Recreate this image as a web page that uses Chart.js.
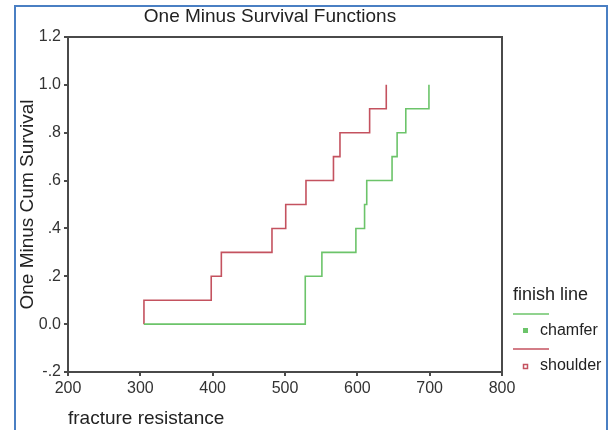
<!DOCTYPE html>
<html>
<head>
<meta charset="utf-8">
<script src="https://cdn.jsdelivr.net/npm/chart.js@4/dist/chart.umd.min.js"></script>
<style>
  html, body { margin: 0; padding: 0; background: #fff; }
  #wrap { position: relative; width: 611px; height: 430px; overflow: hidden; }
  #frame {
    position: absolute; left: 14px; top: 5px; width: 590px; height: 440px;
    border: 2px solid #4a7fc3; pointer-events: none;
  }
</style>
</head>
<body>
<div id="wrap">
  <canvas id="chart" width="611" height="430"></canvas>
  <div id="frame"></div>
</div>
<script>
// values
const shoulderTimes = [305, 305, 398, 412, 482, 501, 529, 567, 576, 617, 640];
const shoulderCum   = [0, 0.1, 0.2, 0.3, 0.4, 0.5, 0.6, 0.7, 0.8, 0.9, 1.0];
const chamferTimes  = [305, 528, 551, 598, 610, 613, 648, 655, 667, 699];
const chamferCum    = [0, 0.2, 0.3, 0.4, 0.5, 0.6, 0.7, 0.8, 0.9, 1.0];

const groups = ['chamfer', 'shoulder'];
const xTickLabels = ['200', '300', '400', '500', '600', '700', '800'];
const yTickLabels = ['-.2', '0.0', '.2', '.4', '.6', '.8', '1.0', '1.2'];

const GREEN = '#6cc46a';
const RED   = '#c4525f';
const AXIS  = '#4a4a4a';
const FONT  = "'Liberation Sans', Arial, sans-serif";

const toPoints = (xs, ys) => xs.map((x, i) => ({ x: x, y: ys[i] }));

// title, plot frame, legend
const extras = {
    id: 'extras',
    beforeDatasetsDraw(chart) {
        const { ctx, chartArea: a } = chart;
        ctx.save();
        ctx.strokeStyle = AXIS;
        ctx.lineWidth = 2;
        ctx.strokeRect(a.left, a.top, a.right - a.left, a.bottom - a.top);
        ctx.restore();
    },
    afterDraw(chart) {
        const ctx = chart.ctx;
        ctx.save();
        ctx.fillStyle = '#222';
        ctx.textBaseline = 'middle';
        ctx.textAlign = 'center';
        ctx.font = '19px ' + FONT;
        ctx.fillText('One Minus Survival Functions', 270, 17);

        // legend
        ctx.textAlign = 'left';
        ctx.font = '18px ' + FONT;
        ctx.fillText('finish line', 513, 295);
        ctx.font = '16px ' + FONT;
        chart.data.datasets.forEach((ds, i) => {
            const y = 314 + i * 35;
            ctx.strokeStyle = ds.borderColor;
            ctx.lineWidth = 1.5;
            ctx.beginPath();
            ctx.moveTo(513, y);
            ctx.lineTo(549, y);
            ctx.stroke();
            if (i === 0) {
                ctx.fillStyle = ds.borderColor;
                ctx.fillRect(523, y + 14, 5, 5);
            } else {
                ctx.strokeRect(523.5, y + 15.5, 4, 4);
            }
            ctx.fillStyle = '#222';
            ctx.fillText(ds.label, 540, y + 17);
        });
        ctx.restore();
    }
};

new Chart(document.getElementById('chart'), {
    type: 'line',
    data: {
        datasets: [
            {
                label: groups[0],
                data: toPoints(chamferTimes, chamferCum),
                borderColor: GREEN,
                borderWidth: 1.6,
                pointRadius: 0,
                stepped: 'before',
                fill: false
            },
            {
                label: groups[1],
                data: toPoints(shoulderTimes, shoulderCum),
                borderColor: RED,
                borderWidth: 1.6,
                pointRadius: 0,
                stepped: 'before',
                fill: false
            }
        ]
    },
    options: {
        responsive: false,
        animation: false,
        layout: { padding: { top: 37, right: 109, bottom: 0, left: 0 } },
        plugins: {
            legend: { display: false },
            title: { display: false },
            tooltip: { enabled: false }
        },
        scales: {
            x: {
                type: 'linear',
                min: 200,
                max: 800,
                ticks: {
                    stepSize: 100,
                    color: '#333',
                    padding: 3,
                    maxRotation: 0,
                    font: { family: FONT, size: 16 },
                    callback: (v, i) => xTickLabels[i]
                },
                grid: { drawOnChartArea: false, tickLength: 4, color: AXIS, lineWidth: 2 },
                border: { color: AXIS, width: 2 },
                title: {
                    display: true,
                    text: 'fracture resistance',
                    align: 'start',
                    color: '#222',
                    font: { family: FONT, size: 19 },
                    padding: { top: 0, bottom: 0 }
                },
                afterFit: s => { s.height = 58; }
            },
            y: {
                min: -0.2,
                max: 1.2,
                ticks: {
                    stepSize: 0.2,
                    color: '#333',
                    padding: 3,
                    font: { family: FONT, size: 16 },
                    callback: (v, i) => yTickLabels[i]
                },
                grid: { drawOnChartArea: false, tickLength: 4, color: AXIS, lineWidth: 2 },
                border: { color: AXIS, width: 2 },
                title: {
                    display: true,
                    text: 'One Minus Cum Survival',
                    color: '#222',
                    font: { family: FONT, size: 19 },
                    padding: { top: 16, bottom: 0 }
                },
                afterFit: s => { s.width = 68; }
            }
        }
    },
    plugins: [extras]
});
</script>
</body>
</html>
